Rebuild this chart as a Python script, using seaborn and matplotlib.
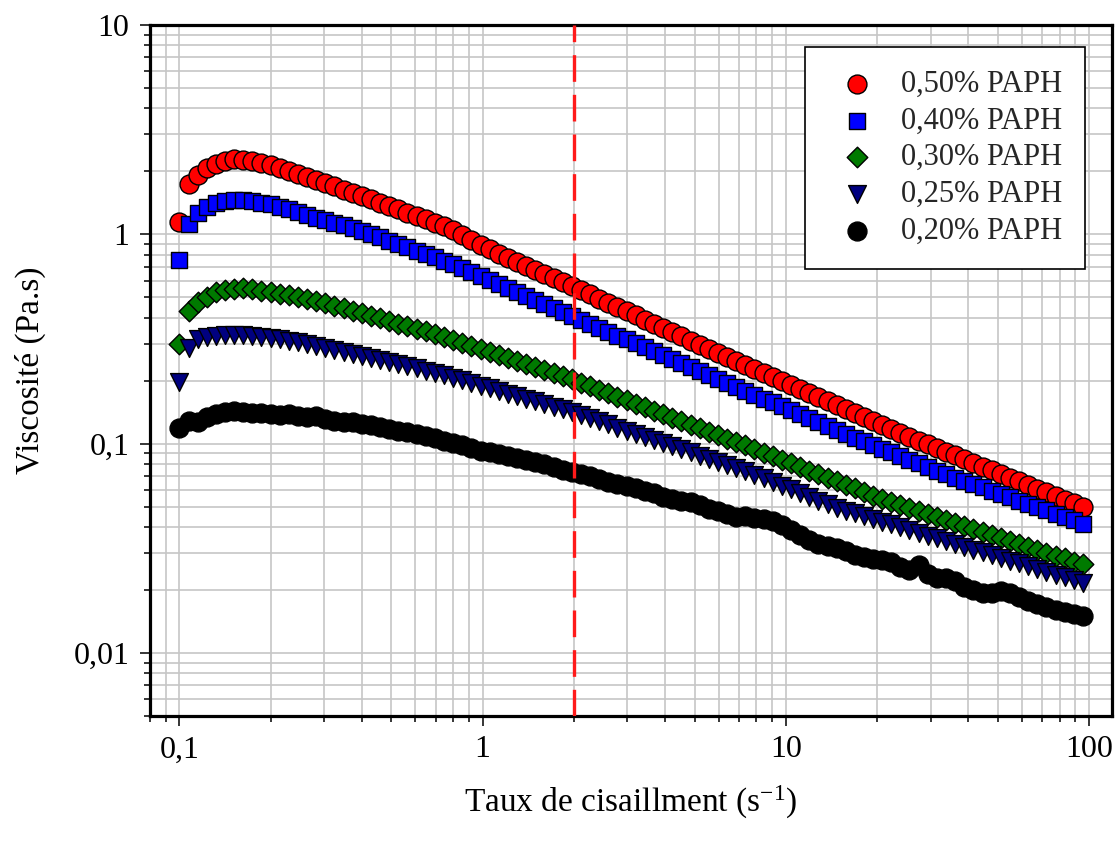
import numpy as np
import pandas as pd
import matplotlib
matplotlib.use("Agg")
import matplotlib.pyplot as plt
from matplotlib.ticker import FixedLocator, LogLocator, FuncFormatter, NullFormatter
import seaborn as sns

# Shear rate sweep (s^-1)
shear_rate = [0.1, 0.1072, 0.1149, 0.1231, 0.1319, 0.1414, 0.1515, 0.1624, 0.1741, 0.1865,
              0.1999, 0.2143, 0.2296, 0.2461, 0.2637, 0.2827, 0.3029, 0.3247, 0.348, 0.3729,
              0.3997, 0.4283, 0.459, 0.492, 0.5272, 0.565, 0.6061, 0.6496, 0.6962, 0.7461,
              0.7996, 0.857, 0.9188, 0.9847, 1.055, 1.131, 1.212, 1.300, 1.393, 1.493,
              1.599, 1.714, 1.838, 1.969, 2.111, 2.261, 2.425, 2.598, 2.784, 2.985,
              3.197, 3.428, 3.675, 3.938, 4.222, 4.52, 4.850, 5.197, 5.570, 5.969,
              6.392, 6.857, 7.348, 7.876, 8.441, 9.037, 9.696, 10.39, 11.14, 11.94,
              12.78, 13.72, 14.70, 15.75, 16.88, 18.07, 19.39, 20.78, 22.27, 23.87,
              25.55, 27.42, 29.39, 31.50, 33.76, 36.13, 38.78, 41.56, 44.54, 47.74,
              51.08, 54.83, 58.77, 62.98, 67.50, 72.22, 77.54, 83.10, 89.07, 95.47]

# Apparent viscosity (Pa.s) for each PAPH concentration
visc_050 = [1.141, 1.730, 1.931, 2.084, 2.178, 2.251, 2.288, 2.276, 2.251, 2.203,
            2.143, 2.084, 2.017, 1.952, 1.879, 1.808, 1.750, 1.693, 1.629, 1.568,
            1.517, 1.468, 1.405, 1.359, 1.315, 1.266, 1.218, 1.179, 1.134, 1.092,
            1.045, 0.989, 0.942, 0.886, 0.848, 0.809, 0.774, 0.740, 0.707, 0.676,
            0.646, 0.618, 0.591, 0.566, 0.540, 0.516, 0.4925, 0.470, 0.449, 0.429,
            0.410, 0.391, 0.3736, 0.3568, 0.3407, 0.3254, 0.3107, 0.2968, 0.2834, 0.2707,
            0.2585, 0.2474, 0.2367, 0.2266, 0.2169, 0.2076, 0.1987, 0.1901, 0.1820, 0.1742,
            0.1667, 0.1596, 0.1527, 0.1462, 0.1399, 0.1339, 0.1282, 0.1227, 0.1174, 0.1123,
            0.1075, 0.1032, 0.0991, 0.0952, 0.0914, 0.0878, 0.0843, 0.0809, 0.0777, 0.0746,
            0.0716, 0.0688, 0.0661, 0.0634, 0.0609, 0.0585, 0.0562, 0.0540, 0.0518, 0.0497]

visc_040 = [0.752, 1.116, 1.266, 1.352, 1.413, 1.436, 1.452, 1.452, 1.436, 1.413,
            1.389, 1.352, 1.315, 1.273, 1.239, 1.198, 1.166, 1.134, 1.104, 1.074,
            1.033, 1.000, 0.968, 0.926, 0.896, 0.867, 0.830, 0.803, 0.777, 0.744,
            0.720, 0.693, 0.663, 0.634, 0.607, 0.581, 0.556, 0.532, 0.509, 0.487,
            0.466, 0.446, 0.426, 0.408, 0.3907, 0.3741, 0.3583, 0.3431, 0.3285, 0.3146,
            0.3013, 0.2885, 0.2763, 0.2646, 0.2533, 0.2426, 0.2323, 0.2225, 0.2130, 0.2040,
            0.1954, 0.1871, 0.1791, 0.1715, 0.1643, 0.1573, 0.1506, 0.1442, 0.1381, 0.1323,
            0.1267, 0.1213, 0.1162, 0.1115, 0.1070, 0.1027, 0.0986, 0.0947, 0.0909, 0.0872,
            0.0837, 0.0804, 0.0772, 0.0741, 0.0715, 0.0689, 0.0665, 0.0641, 0.0618, 0.0596,
            0.0575, 0.0555, 0.0535, 0.0516, 0.0498, 0.0480, 0.0463, 0.0447, 0.0431, 0.0415]

visc_030 = [0.2994, 0.4299, 0.4745, 0.5040, 0.5294, 0.5412, 0.5501, 0.5531, 0.5471, 0.5383,
            0.5294, 0.5207, 0.5122, 0.5012, 0.4903, 0.4797, 0.4693, 0.4566, 0.4443, 0.4323,
            0.4206, 0.4092, 0.3981, 0.3853, 0.3749, 0.3647, 0.3548, 0.3452, 0.3341, 0.3233,
            0.3128, 0.3027, 0.2928, 0.2832, 0.2739, 0.2649, 0.2562, 0.2478, 0.2397, 0.2318,
            0.2242, 0.2169, 0.2098, 0.2029, 0.1953, 0.1879, 0.1809, 0.1741, 0.1675, 0.1612,
            0.1552, 0.1493, 0.1437, 0.1383, 0.1331, 0.1281, 0.1233, 0.1187, 0.1142, 0.1099,
            0.1058, 0.1018, 0.0980, 0.0943, 0.0906, 0.0871, 0.0838, 0.0805, 0.0774, 0.0744,
            0.0715, 0.0688, 0.0661, 0.0636, 0.0611, 0.0587, 0.0565, 0.0546, 0.0529, 0.0511,
            0.0495, 0.0479, 0.0463, 0.0448, 0.0434, 0.0420, 0.0406, 0.0393, 0.0380, 0.0368,
            0.0356, 0.0344, 0.0333, 0.0322, 0.0312, 0.0302, 0.0292, 0.0283, 0.0273, 0.0265]

visc_025 = [0.1973, 0.2866, 0.3162, 0.3250, 0.3286, 0.3304, 0.3304, 0.3304, 0.3286, 0.3250,
            0.3214, 0.3162, 0.3110, 0.3059, 0.2994, 0.2929, 0.2866, 0.2804, 0.2743, 0.2683,
            0.2625, 0.2568, 0.2499, 0.2444, 0.2391, 0.2339, 0.2288, 0.2226, 0.2178, 0.2119,
            0.2062, 0.2006, 0.1949, 0.1893, 0.1839, 0.1786, 0.1735, 0.1685, 0.1637, 0.1590,
            0.1545, 0.1501, 0.1458, 0.1416, 0.1368, 0.1322, 0.1278, 0.1235, 0.1193, 0.1153,
            0.1115, 0.1077, 0.1041, 0.1006, 0.0972, 0.0939, 0.0908, 0.0877, 0.0848, 0.0819,
            0.0792, 0.0765, 0.0739, 0.0710, 0.0682, 0.0655, 0.0629, 0.0604, 0.0580, 0.0557,
            0.0535, 0.0514, 0.0494, 0.0479, 0.0465, 0.0451, 0.0437, 0.0424, 0.0411, 0.0399,
            0.0387, 0.0375, 0.0364, 0.0353, 0.0342, 0.0332, 0.0322, 0.0312, 0.0303, 0.0294,
            0.0285, 0.0276, 0.0268, 0.0260, 0.0252, 0.0244, 0.0237, 0.0230, 0.0223, 0.0216]

visc_020 = [0.1192, 0.1287, 0.1273, 0.1345, 0.1382, 0.1413, 0.1436, 0.1421, 0.1397, 0.1405,
            0.1389, 0.1374, 0.1389, 0.1359, 0.1345, 0.1359, 0.1315, 0.1287, 0.1273, 0.1273,
            0.1245, 0.1232, 0.1205, 0.1179, 0.1153, 0.1140, 0.1116, 0.1092, 0.1068, 0.1033,
            0.1011, 0.0989, 0.0957, 0.0926, 0.0911, 0.0896, 0.0877, 0.0858, 0.0839, 0.0821,
            0.0803, 0.0777, 0.0752, 0.0736, 0.0720, 0.0700, 0.0681, 0.0659, 0.0645, 0.0631,
            0.0614, 0.0597, 0.0578, 0.0559, 0.0547, 0.0535, 0.0524, 0.0507, 0.0490, 0.0475,
            0.0459, 0.0444, 0.0449, 0.0439, 0.0435, 0.0425, 0.0407, 0.0385, 0.0365, 0.0345,
            0.0330, 0.0323, 0.0316, 0.0306, 0.0293, 0.0286, 0.0280, 0.0277, 0.0271, 0.0257,
            0.0248, 0.0262, 0.0238, 0.0228, 0.0228, 0.0220, 0.0206, 0.0200, 0.0193, 0.0193,
            0.0197, 0.0193, 0.0185, 0.0177, 0.0171, 0.0166, 0.0160, 0.0157, 0.0153, 0.0150]

series_labels = ["0,50% PAPH", "0,40% PAPH", "0,30% PAPH", "0,25% PAPH", "0,20% PAPH"]
series_values = [visc_050, visc_040, visc_030, visc_025, visc_020]

x_ticks = [0.1, 1, 10, 100]
y_ticks = [0.01, 0.1, 1, 10]
critical_rate = 2.0

# marker, face colour, marker area (pt^2)
marker_styles = [("o", "#FF0000", 185),
                 ("s", "#0000FF", 145),
                 ("D", "#007A00", 110),
                 ("v", "#000080", 165),
                 ("o", "#000000", 185)]

frames = []
for label, values in zip(series_labels, series_values):
    frames.append(pd.DataFrame({"shear": shear_rate, "viscosity": values, "series": label}))
data = pd.concat(frames, ignore_index=True)

sns.set_style("white")
plt.rcParams["font.family"] = ["Liberation Serif", "DejaVu Serif"]
plt.rcParams["mathtext.fontset"] = "custom"
plt.rcParams["mathtext.rm"] = "Liberation Serif"
plt.rcParams["mathtext.it"] = "Liberation Serif:italic"
plt.rcParams["mathtext.bf"] = "Liberation Serif:bold"

fig = plt.figure(figsize=(11.16, 8.43), dpi=100)
ax = fig.add_axes([150 / 1116, 1 - 716 / 843, (1112 - 150) / 1116, (716 - 25) / 843])

for label, (marker, color, size) in zip(series_labels, marker_styles):
    subset = data[data["series"] == label]
    sns.scatterplot(data=subset, x="shear", y="viscosity", marker=marker, color=color,
                    s=size, edgecolor="black", linewidth=1.0, label=label, ax=ax, zorder=3)

ax.set_xscale("log")
ax.set_yscale("log")
ax.set_xlim(0.08, 119)
ax.set_ylim(0.005, 10)

ax.axvline(critical_rate, color="#FF1A1A", lw=2.4, dashes=(8.0, 3.9), zorder=5)

def comma_fmt(v, pos):
    return f"{v:g}".replace(".", ",")

ax.xaxis.set_major_locator(FixedLocator(x_ticks))
ax.yaxis.set_major_locator(FixedLocator(y_ticks))
ax.xaxis.set_minor_locator(LogLocator(base=10, subs=np.arange(2, 10), numticks=50))
ax.yaxis.set_minor_locator(LogLocator(base=10, subs=np.arange(2, 10), numticks=50))
ax.xaxis.set_major_formatter(FuncFormatter(comma_fmt))
ax.yaxis.set_major_formatter(FuncFormatter(comma_fmt))
ax.xaxis.set_minor_formatter(NullFormatter())
ax.yaxis.set_minor_formatter(NullFormatter())

ax.grid(True, which="both", color="#c6c6c6", linewidth=1.2)
ax.set_axisbelow(True)

ax.tick_params(which="both", bottom=True, left=True, top=False, right=False,
               direction="out", colors="black", width=1.1)
ax.tick_params(which="major", length=7, labelsize=23)
ax.tick_params(axis="x", which="major", pad=7)
ax.tick_params(axis="y", which="major", pad=8)
ax.tick_params(which="minor", length=4.5)

for spine in ax.spines.values():
    spine.set_linewidth(2.3)
    spine.set_color("black")
    spine.set_visible(True)

ax.set_xlabel("Taux de cisaillment (s$^{-1}$)", fontsize=24, labelpad=14, color="black")
ax.set_ylabel("Viscosité (Pa.s)", fontsize=24, labelpad=20, color="black")

leg = ax.legend(loc="upper right", bbox_to_anchor=(0.972, 0.968), borderaxespad=0,
                frameon=True, fancybox=False, edgecolor="black", framealpha=1,
                fontsize=22, handletextpad=0.5, handlelength=1.9, borderpad=0.75,
                labelspacing=0.25, scatterpoints=1)
leg.get_frame().set_linewidth(1.2)
leg.set_zorder(10)

fig.savefig("out.png", dpi=100)
